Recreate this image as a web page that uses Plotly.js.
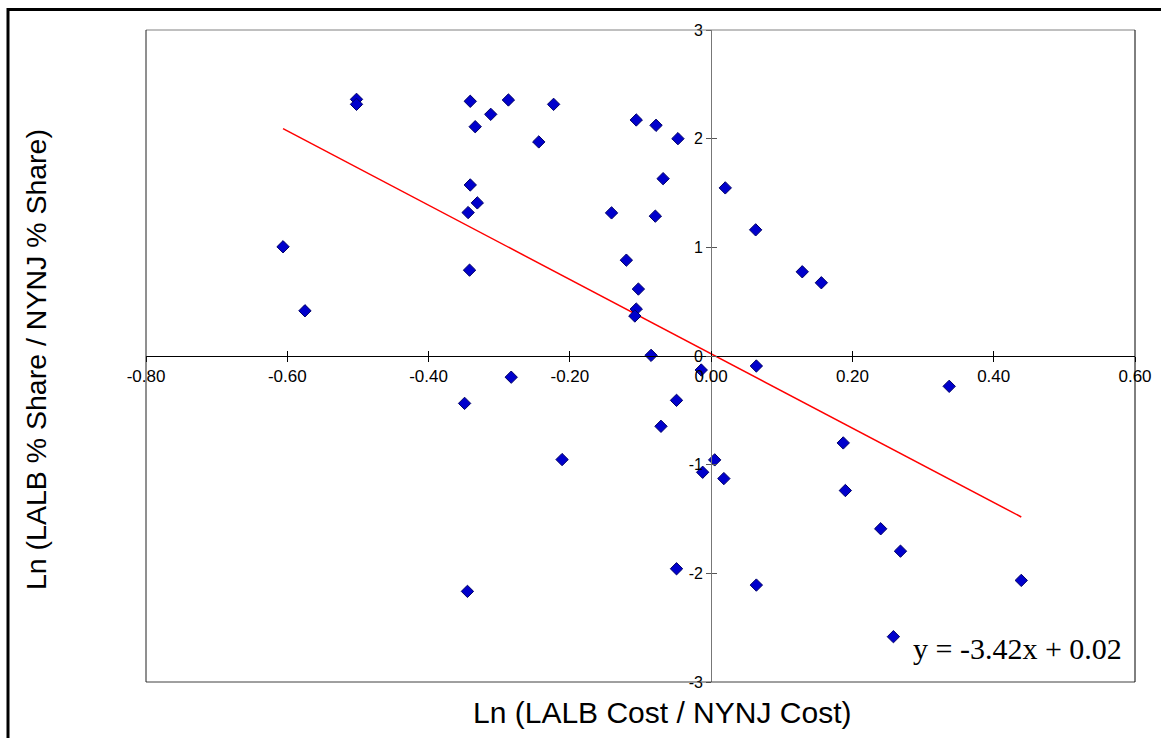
<!DOCTYPE html>
<html>
<head>
<meta charset="utf-8">
<script src="https://cdn.plot.ly/plotly-3.0.1.min.js"></script>
<style>
  html, body { margin: 0; padding: 0; background: #ffffff; }
  #chart { width: 1161px; height: 738px; }
</style>
</head>
<body>
<div id="chart"></div>
<script>
// Data
const costRatio = [
  -0.606, -0.575, -0.502, -0.502, -0.341, -0.334, -0.312, -0.287, -0.244, -0.341,
  -0.331, -0.344, -0.223, -0.106, -0.078, -0.047, -0.068, -0.141, -0.079, 0.020,
  0.063, -0.342, -0.120, -0.103, -0.106, -0.108, -0.085, 0.129, 0.156, -0.014,
  0.064, -0.283, -0.049, 0.337, -0.349, -0.071, -0.211, 0.005, -0.012, 0.018,
  0.187, 0.190, 0.240, 0.268, -0.049, 0.064, -0.345, 0.439, 0.258
];
const shareRatio = [
  1.005, 0.416, 2.362, 2.316, 2.344, 2.110, 2.224, 2.356, 1.970, 1.574,
  1.409, 1.320, 2.316, 2.172, 2.123, 2.000, 1.632, 1.317, 1.287, 1.547,
  1.161, 0.790, 0.882, 0.616, 0.432, 0.368, 0.006, 0.775, 0.674, -0.129,
  -0.092, -0.195, -0.408, -0.279, -0.436, -0.647, -0.953, -0.956, -1.070, -1.128,
  -0.800, -1.238, -1.590, -1.796, -1.958, -2.108, -2.166, -2.065, -2.583
];
const trendSlope = -3.42;
const trendIntercept = 0.02;
const xTickVals = [-0.8, -0.6, -0.4, -0.2, 0.0, 0.2, 0.4, 0.6];
const xTickText = ["-0.80", "-0.60", "-0.40", "-0.20", "0.00", "0.20", "0.40", "0.60"];
const yTickVals = [-3, -2, -1, 0, 1, 2, 3];
const yTickText = ["-3", "-2", "-1", "0", "1", "2", "3"];
const xTitle = "Ln (LALB Cost / NYNJ Cost)";
const yTitle = "Ln (LALB % Share / NYNJ % Share)";
const eqText = "y = -3.42x + 0.02";

const xMin = Math.min(...costRatio), xMax = Math.max(...costRatio);
const trendX = [xMin, xMax];
const trendY = trendX.map(v => trendSlope * v + trendIntercept);

// layout geometry (pixels)
const W = 1161, H = 738;
const L = 146, R = 1135, T = 30, B = 682;
const px = p => (p - L) / (R - L);
const py = p => (B - p) / (B - T);

const xRange = [-0.8, 0.6], yRange = [-3, 3];
const yAxisPos = (0 - xRange[0]) / (xRange[1] - xRange[0]);
const xAxisPos = (0 - yRange[0]) / (yRange[1] - yRange[0]);

const traces = [
  {
    x: trendX, y: trendY, type: 'scatter', mode: 'lines',
    line: { color: '#FF0000', width: 1.5 }, hoverinfo: 'skip', showlegend: false
  },
  {
    x: costRatio, y: shareRatio, type: 'scatter', mode: 'markers',
    marker: { symbol: 'diamond', size: 9.5, color: '#0000CC', line: { color: '#000066', width: 1 } },
    showlegend: false
  },
  // invisible trace for the inner half of the cross ticks
  { x: [null], y: [null], xaxis: 'x2', yaxis: 'y2', type: 'scatter', showlegend: false, hoverinfo: 'skip' }
];

const font = "Liberation Sans, Arial, sans-serif";
const layout = {
  width: W, height: H,
  margin: { l: L, r: W - R, t: T, b: H - B, pad: 0 },
  paper_bgcolor: '#ffffff', plot_bgcolor: '#ffffff',
  font: { family: font, color: '#000000' },
  showlegend: false,
  xaxis: {
    range: xRange, domain: [0, 1], anchor: 'free', position: xAxisPos,
    tickvals: xTickVals, ticktext: xTickText,
    showline: true, linecolor: '#000000', linewidth: 1,
    ticks: 'outside', ticklen: 5, tickwidth: 1, tickcolor: '#000000',
    tickfont: { size: 17, family: font, color: '#000000' },
    showgrid: false, zeroline: false, fixedrange: true
  },
  yaxis: {
    range: yRange, domain: [0, 1], anchor: 'free', position: yAxisPos,
    tickvals: yTickVals, ticktext: yTickText,
    showline: true, linecolor: '#777777', linewidth: 1,
    ticks: 'outside', ticklen: 5, tickwidth: 1, tickcolor: '#555555',
    tickfont: { size: 16, family: font, color: '#000000' },
    showgrid: false, zeroline: false, fixedrange: true
  },
  xaxis2: {
    range: xRange, overlaying: 'x', anchor: 'free', position: xAxisPos,
    tickvals: xTickVals, ticks: 'inside', ticklen: 5, tickwidth: 1, tickcolor: '#000000',
    showticklabels: false, showline: false, showgrid: false, zeroline: false, fixedrange: true
  },
  yaxis2: {
    range: yRange, overlaying: 'y', anchor: 'free', position: yAxisPos,
    tickvals: yTickVals, ticks: 'inside', ticklen: 5, tickwidth: 1, tickcolor: '#555555',
    showticklabels: false, showline: false, showgrid: false, zeroline: false, fixedrange: true
  },
  shapes: [
    // outer frame
    { type: 'rect', xref: 'paper', yref: 'paper', x0: px(8), x1: px(1180), y0: py(760), y1: py(9.5),
      line: { color: '#000000', width: 3 }, fillcolor: 'rgba(0,0,0,0)', layer: 'above' },
    // plot-area border
    { type: 'line', xref: 'paper', yref: 'paper', x0: 0, x1: 1, y0: 1, y1: 1, line: { color: '#808080', width: 1 } },
    { type: 'line', xref: 'paper', yref: 'paper', x0: 0, x1: 1, y0: 0, y1: 0, line: { color: '#404040', width: 1 } },
    { type: 'line', xref: 'paper', yref: 'paper', x0: 0, x1: 0, y0: 0, y1: 1, line: { color: '#202020', width: 1 } },
    { type: 'line', xref: 'paper', yref: 'paper', x0: 1, x1: 1, y0: 0, y1: 1, line: { color: '#000000', width: 1 } }
  ],
  annotations: [
    { text: xTitle, xref: 'paper', yref: 'paper', x: px(662), y: py(712), xanchor: 'center', yanchor: 'middle',
      showarrow: false, font: { size: 30, family: font, color: '#000000' } },
    { text: yTitle, xref: 'paper', yref: 'paper', x: px(36), y: py(360), xanchor: 'center', yanchor: 'middle',
      textangle: -90, showarrow: false, font: { size: 28.5, family: font, color: '#000000' } },
    { text: eqText, xref: 'paper', yref: 'paper', x: px(1017), y: py(648), xanchor: 'center', yanchor: 'middle',
      showarrow: false, font: { size: 30, family: "Liberation Serif, 'Times New Roman', serif", color: '#000000' } }
  ]
};

Plotly.newPlot('chart', traces, layout, { displayModeBar: false, staticPlot: true });
</script>
</body>
</html>
